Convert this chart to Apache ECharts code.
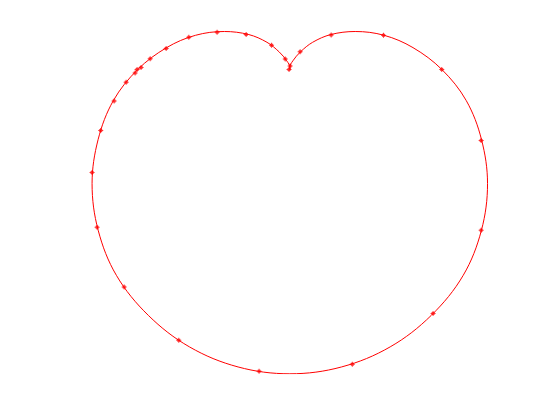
<!DOCTYPE html>
<html>
<head>
<meta charset="utf-8">
<script src="https://cdn.jsdelivr.net/npm/echarts@6/dist/echarts.min.js"></script>
<style>html,body{margin:0;padding:0;background:#fff;}#c{width:560px;height:420px;}</style>
</head>
<body>
<div id="c"></div>
<script>
// Curve points (x, y in plot units; cusp at origin)
const curveX = [0.00, -0.00, -0.02, -0.07, -0.15, -0.27, -0.43, -0.62, -0.81, -1.00, -1.16, -1.26, -1.30, -1.26, -1.14, -0.93, -0.66, -0.34, 0.00, 0.34, 0.66, 0.93, 1.14, 1.26, 1.30, 1.26, 1.16, 1.00, 0.81, 0.62, 0.43, 0.27, 0.15, 0.07, 0.02, 0.00, 0.00];
const curveY = [0.00, 0.015, 0.057, 0.116, 0.179, 0.230, 0.250, 0.225, 0.144, 0.00, -0.204, -0.459, -0.750, -1.056, -1.353, -1.616, -1.823, -1.955, -2.00, -1.955, -1.823, -1.616, -1.353, -1.056, -0.750, -0.459, -0.204, 0.00, 0.144, 0.225, 0.250, 0.230, 0.179, 0.116, 0.057, 0.015, 0.00];
// Marker points
const markerX = [-1.243, -1.155, -1.076, -1.017, -1.004, -0.978, -0.918, -0.813, -0.664, -0.478, -0.287, -0.120, -0.030, 0.002, -0.005, 0.068, 0.272, 0.616, 0.999, 1.258, 1.258, 0.942, 0.411, -0.202, -0.730, -1.089, -1.267, -1.300];
const markerY = [-0.400, -0.207, -0.084, -0.023, 0.001, 0.014, 0.071, 0.139, 0.212, 0.245, 0.231, 0.159, 0.069, 0.024, 0.001, 0.117, 0.227, 0.225, 0.001, -0.467, -1.057, -1.603, -1.938, -1.984, -1.780, -1.430, -1.037, -0.676];

const curve = curveX.map((x, i) => [x, curveY[i]]);
const markers = markerX.map((x, i) => [x, markerY[i]]);

const chart = echarts.init(document.getElementById('c'), null, {renderer: 'canvas'});
chart.setOption({
  animation: false,
  backgroundColor: '#ffffff',
  grid: {left: 72.8, top: 31.5, width: 434, height: 342.3},
  xAxis: {type: 'value', min: -1.4267, max: 1.4267, show: false},
  yAxis: {type: 'value', min: -2, max: 0.25, show: false},
  series: [
    {
      type: 'line', data: curve, smooth: 0.35, showSymbol: false,
      lineStyle: {color: '#ff0000', width: 1}
    },
    {
      type: 'scatter', data: markers,
      symbol: 'path://M1,1H2V0H3V1H4V2H5V3H4V4H3V5H2V4H1V3H0V2H1Z',
      symbolSize: 5, itemStyle: {color: '#ff0000'}
    }
  ]
});
</script>
</body>
</html>
